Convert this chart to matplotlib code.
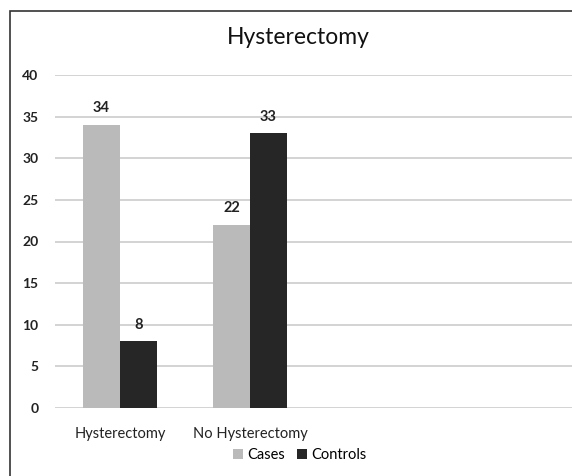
import numpy as np
import matplotlib.pyplot as plt
from matplotlib.patches import Rectangle

categories = ["Hysterectomy", "No Hysterectomy", "", ""]
cases = [34, 22]
controls = [8, 33]
series_names = ["Cases", "Controls"]
yticks = [0, 5, 10, 15, 20, 25, 30, 35, 40]

CASE_C = "#bababa"
CTRL_C = "#262626"

plt.rcParams["font.family"] = ["Lato", "DejaVu Sans"]

fig = plt.figure(figsize=(5.72, 4.76), dpi=100)
W, H = 572, 476
ax = fig.add_axes([55 / W, (H - 408) / H, 1 - 55 / W, (408 - 75) / H])

# outer chart frame (cropped on right and bottom)
fig.patches.append(Rectangle((10 / W, -0.05), 1.1, (H - 11) / H + 0.05,
                             transform=fig.transFigure, fill=False,
                             edgecolor="#333333", linewidth=1.2))

x = np.arange(len(cases))
w = 0.285
b1 = ax.bar(x - w / 2, cases, w, color=CASE_C, label=series_names[0], zorder=3)
b2 = ax.bar(x + w / 2, controls, w, color=CTRL_C, label=series_names[1], zorder=3)
for bars in (b1, b2):
    for r in bars:
        ax.annotate(f"{int(r.get_height())}",
                    (r.get_x() + r.get_width() / 2, r.get_height()),
                    xytext=(0, 7), textcoords="offset points",
                    ha="center", va="bottom", fontsize=10.5,
                    fontweight="bold", color="#222222")

ax.set_xlim(-0.5, -0.5 + (W - 55) / 130)
ax.set_ylim(0, 40)
ax.set_yticks(yticks)
ax.set_xticks(range(len(categories)))
ax.set_xticklabels(categories, fontsize=10.5, color="#222222")
ax.tick_params(axis="y", labelsize=10, colors="#222222", length=0, pad=12)
ax.tick_params(axis="x", length=0, pad=14)
for lbl in ax.get_yticklabels():
    lbl.set_fontweight("bold")
ax.yaxis.grid(True, color="#cccccc", linewidth=1.2, zorder=0)
for s in ax.spines.values():
    s.set_visible(False)

fig.text(298 / W, (H - 38) / H, "Hysterectomy", ha="center", va="center",
         fontsize=16.5, color="#111111")
fig.legend(handles=[b1, b2], labels=series_names, loc="center",
           bbox_to_anchor=(300 / W, (H - 455) / H), ncol=2, frameon=False,
           fontsize=10.5, handlelength=0.7, handleheight=0.7,
           handletextpad=0.3, columnspacing=0.8)

fig.savefig("out.png", dpi=100)
